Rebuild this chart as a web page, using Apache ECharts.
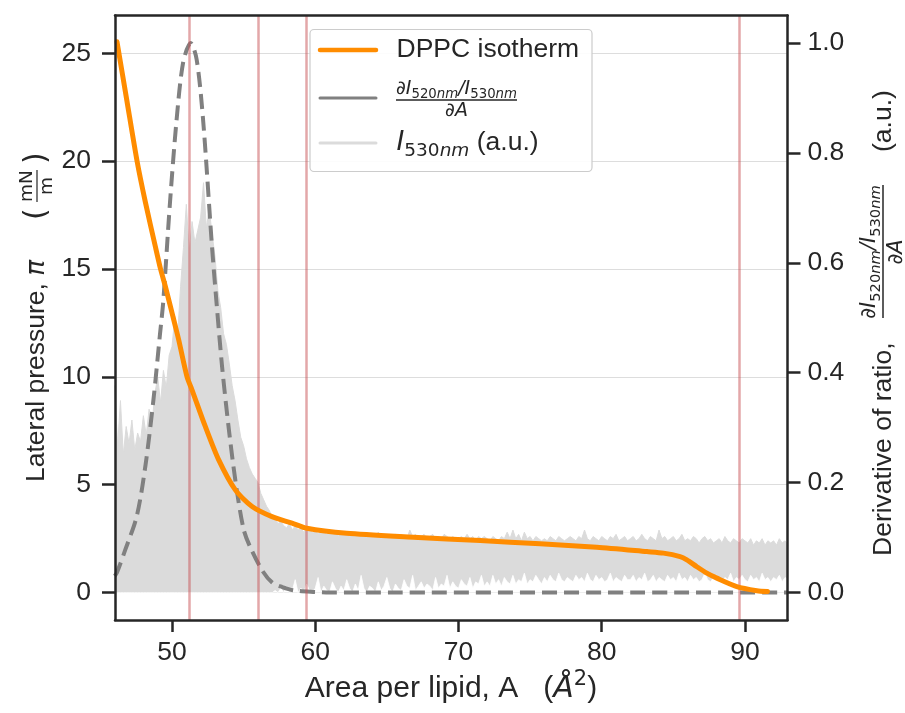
<!DOCTYPE html>
<html>
<head>
<meta charset="utf-8">
<script src="https://cdn.jsdelivr.net/npm/echarts@6/dist/echarts.min.js"></script>
<style>
  html, body { margin: 0; padding: 0; background: #ffffff; }
  #chart { width: 905px; height: 713px; }
</style>
</head>
<body>
<div id="chart"></div>
<script>
// DPPC isotherm: area per lipid (Å²) against lateral pressure (mN/m)
const isoArea = [46.16, 46.85, 47.56, 48.14, 48.84, 49.2, 49.54, 50.24, 50.47, 51.05, 51.4, 52.33,
  53.26, 54.42, 55.59, 56.98, 58.38, 59.41, 62.2, 66.86, 71.51, 75.7,
  79.66, 83.15, 84.31, 85.47, 85.94, 86.64, 87.34, 88.04, 89.43, 90.83, 91.57];
const isoPressure = [25.53, 22.8, 20.0, 18.1, 16.03, 15.0, 14.18, 12.33, 11.71, 10.0, 9.39, 7.69,
  6.15, 4.76, 3.99, 3.52, 3.22, 2.98, 2.75, 2.57, 2.41, 2.26,
  2.1, 1.9, 1.83, 1.67, 1.52, 1.2, 0.9, 0.67, 0.28, 0.09, 0.05];

// Normalised derivative of the I520/I530 ratio with respect to area
const derivArea = [46.0, 46.15, 46.74, 47.54, 48.14, 48.7, 49.16, 49.39, 49.86, 50.32,
  50.78, 51.3, 51.72, 52.17, 52.79, 53.1, 53.5, 54.0, 54.5, 55.0,
  55.42, 56.3, 57.0, 57.7, 58.5, 60.0, 61.0, 93.0];
const derivValue = [0.03, 0.036, 0.078, 0.139, 0.23, 0.35, 0.47, 0.53, 0.71, 0.86,
  0.965, 1.0, 0.97, 0.86, 0.63, 0.53, 0.41, 0.29, 0.19, 0.115,
  0.085, 0.04, 0.018, 0.01, 0.004, 0.001, 0, 0];

// I530 trace (a.u., drawn on the pressure scale), sampled every 0.2 Å² from 46.0 Å²
const i530Start = 46.0;
const i530Step = 0.2;
const i530Upper = [
  9.6, 6.8, 8.9, 6.4, 7.7, 6.9, 8.0, 6.6, 7.4, 7.0,
  8.2, 7.3, 8.5, 7.8, 9.2, 10.0, 8.8, 10.3, 9.5, 11.0,
  11.4, 12.8, 12.0, 14.2, 16.0, 18.0, 15.8, 17.2, 16.2, 16.8,
  17.4, 19.0, 16.9, 17.8, 16.6, 15.6, 14.0, 13.2, 12.0, 11.5,
  10.6, 9.6, 8.9, 8.0, 7.2, 6.8, 6.2, 5.8, 5.5, 5.3,
  5.1, 4.6, 4.3, 4.0, 3.8, 3.5, 3.4, 3.2, 3.3, 3.1,
  3.0, 3.2, 2.9, 3.1, 2.9, 3.0, 2.8, 3.0, 2.9, 2.8,
  2.9, 2.7, 2.9, 2.8, 2.7, 2.9, 2.7, 2.8, 2.6, 2.8,
  2.7, 2.8, 2.6, 2.7, 2.8, 2.6, 2.7, 2.6, 2.8, 2.6,
  2.7, 2.6, 2.8, 2.6, 2.7, 2.5, 2.7, 2.6, 2.7, 2.5,
  2.7, 2.6, 2.5, 2.9, 2.6, 2.7, 2.5, 2.6, 2.7, 2.5,
  2.6, 2.7, 2.5, 2.6, 2.5, 2.7, 2.6, 2.5, 2.6, 2.5,
  2.5, 2.6, 2.5, 2.7, 2.5, 2.6, 2.4, 2.6, 2.5, 2.6,
  2.5, 2.4, 2.6, 2.5, 2.4, 2.6, 2.5, 2.8, 2.5, 2.9,
  2.5, 2.7, 2.4, 2.8, 2.5, 2.6, 2.4, 2.6, 2.5, 2.4,
  2.5, 2.4, 2.6, 2.5, 2.4, 2.6, 2.5, 2.4, 2.5, 2.6,
  2.5, 2.4, 2.6, 2.5, 2.9, 2.5, 2.4, 2.6, 2.5, 2.4,
  2.6, 2.5, 2.4, 2.6, 2.5, 2.7, 2.4, 2.5, 2.6, 2.4,
  2.5, 2.6, 2.4, 2.5, 2.7, 2.5, 2.4, 2.6, 2.5, 2.4,
  2.9, 2.5, 2.6, 2.4, 2.5, 2.6, 2.4, 2.5, 2.7, 2.4,
  2.5, 2.4, 2.6, 2.5, 2.3, 2.5, 2.6, 2.4, 2.5, 2.3,
  2.4, 2.5, 2.3, 2.6, 2.4, 2.3, 2.5, 2.4, 2.3, 2.5,
  2.4, 2.3, 2.5, 2.2, 2.4, 2.3, 2.5, 2.2, 2.4, 2.3,
  2.4, 2.2, 2.5, 2.3, 2.4, 2.2
];
const i530Lower = [
  0, 0, 0, 0, 0, 0, 0, 0, 0, 0,
  0, 0, 0, 0, 0, 0, 0, 0, 0, 0,
  0, 0, 0, 0, 0, 0, 0, 0, 0, 0,
  0, 0, 0, 0, 0, 0, 0, 0, 0, 0,
  0, 0, 0, 0, 0, 0, 0, 0, 0, 0,
  0, 0, 0, 0, 0, 0, 0.1, 0, 0.2, 0,
  0.3, 0, 0.1, 0.6, 0, 0.2, 0, 0.4, 0.1, 0,
  0.2, 0.7, 0, 0.3, 0.1, 0, 0.5, 0.2, 0, 0.3,
  0.1, 0.6, 0.2, 0, 0.4, 0.1, 0.8, 0.2, 0, 0.3,
  0.2, 0, 0.5, 0.1, 0.3, 0.7, 0.2, 0, 0.4, 0.2,
  0.1, 0.6, 0.3, 0.2, 0.8, 0.1, 0.3, 0.5, 0.2, 0.4,
  0.3, 0.1, 0.7, 0.2, 0.4, 0.3, 0.8, 0.2, 0.5, 0.3,
  0.2, 0.6, 0.4, 0.3, 0.7, 0.2, 0.5, 0.4, 0.8, 0.3,
  0.5, 0.3, 0.8, 0.4, 0.6, 0.3, 0.7, 0.5, 0.4, 0.8,
  0.4, 0.6, 0.5, 0.9, 0.4, 0.6, 0.5, 0.8, 0.6, 0.4,
  0.7, 0.5, 0.8, 0.6, 0.5, 0.9, 0.6, 0.5, 0.7, 0.6,
  0.5, 0.8, 0.6, 0.7, 0.5, 0.9, 0.6, 0.5, 0.8, 0.6,
  0.7, 0.5, 0.6, 0.9, 0.5, 0.7, 0.6, 0.5, 0.8, 0.6,
  0.6, 0.8, 0.5, 0.7, 0.6, 0.9, 0.5, 0.6, 0.8, 0.5,
  0.7, 0.6, 0.5, 0.8, 0.6, 0.7, 0.5, 0.9, 0.6, 0.7,
  0.5, 0.8, 0.6, 0.7, 0.5, 0.6, 0.9, 0.6, 0.5, 0.7,
  0.8, 0.6, 0.5, 0.7, 0.6, 0.9, 0.5, 0.7, 0.6, 0.8,
  0.6, 0.5, 0.8, 0.6, 0.7, 0.5, 0.9, 0.6, 0.7, 0.5,
  0.7, 0.6, 0.8, 0.5, 0.7, 0.6
];

// Vertical markers at the transition areas
const markerAreas = [51.2, 56.0, 59.4, 89.6];

// Axis ticks
const areaTicks = [50, 60, 70, 80, 90];
const pressureTicks = [0, 5, 10, 15, 20, 25];
const ratioTicks = [0, 0.2, 0.4, 0.6, 0.8, 1.0];

const ink = '#262626';
const textFont = 'Liberation Sans';
const mathFont = 'DejaVu Sans';
const orange = '#ff8c00';
const dashGray = '#808080';
const traceGray = '#dbdbdb';
const markerRed = 'rgba(200, 80, 84, 0.5)';

const zip = (xs, ys) => xs.map((x, i) => [x, ys[i]]);
const sampled = vals => vals.map((v, i) => [+(i530Start + i * i530Step).toFixed(2), v]);

const tickLabel = { fontSize: 26.5, fontFamily: textFont, color: ink };

// Rich styles shared by the math-style labels
function mathRich(main, sub) {
  return {
    t: { fontFamily: textFont, fontSize: main, lineHeight: main * 1.3, color: ink, verticalAlign: 'middle' },
    i: { fontFamily: mathFont, fontStyle: 'italic', fontSize: main, lineHeight: main * 1.3, color: ink, verticalAlign: 'middle' },
    r: { fontFamily: mathFont, fontSize: main, lineHeight: main * 1.3, color: ink, verticalAlign: 'middle' },
    s: { fontFamily: mathFont, fontSize: sub, lineHeight: sub, color: ink, verticalAlign: 'bottom' },
    si: { fontFamily: mathFont, fontStyle: 'italic', fontSize: sub, lineHeight: sub, color: ink, verticalAlign: 'bottom' },
    up: { fontFamily: mathFont, fontSize: sub, lineHeight: sub, color: ink, verticalAlign: 'top' }
  };
}

const Z = 100;
function txt(x, y, text, rich, align) {
  return {
    type: 'text', x: x, y: y, z: Z, silent: true,
    style: { text: text, rich: rich, fill: ink, textAlign: align || 'left', textVerticalAlign: 'middle' }
  };
}
function seg(x1, y1, x2, y2, color, width, cap) {
  return {
    type: 'line', z: Z, silent: true,
    shape: { x1: x1, y1: y1, x2: x2, y2: y2 },
    style: { stroke: color, lineWidth: width, lineCap: cap || 'butt' }
  };
}

const chart = echarts.init(document.getElementById('chart'), null, { renderer: 'canvas' });

const option = {
  animation: false,
  backgroundColor: '#ffffff',
  grid: { left: 115, right: 117.5, top: 15.5, bottom: 93, containLabel: false },
  xAxis: [
    {
      type: 'value', position: 'bottom', min: 46.02, max: 92.97, z: 10,
      axisLine: { show: true, onZero: false, lineStyle: { color: ink, width: 2.5 } },
      axisTick: { show: true, length: 12, customValues: areaTicks, lineStyle: { color: ink, width: 2.5 } },
      axisLabel: Object.assign({ margin: 19, customValues: areaTicks }, tickLabel),
      splitLine: { show: false }
    },
    {
      type: 'value', position: 'top', min: 46.02, max: 92.97, z: 10,
      axisLine: { show: true, onZero: false, lineStyle: { color: ink, width: 2.5 } },
      axisTick: { show: false }, axisLabel: { show: false }, splitLine: { show: false }
    }
  ],
  yAxis: [
    {
      type: 'value', position: 'left', min: -1.27, max: 26.75, z: 10,
      axisLine: { show: true, onZero: false, lineStyle: { color: ink, width: 2.5 } },
      axisTick: { show: true, length: 13, customValues: pressureTicks, lineStyle: { color: ink, width: 2.5 } },
      axisLabel: Object.assign({ margin: 24, customValues: pressureTicks }, tickLabel),
      splitLine: { show: false }
    },
    {
      type: 'value', position: 'right', min: -0.05, max: 1.05, z: 10,
      axisLine: { show: true, onZero: false, lineStyle: { color: ink, width: 2.5 } },
      axisTick: { show: true, length: 13, customValues: ratioTicks, lineStyle: { color: ink, width: 2.5 } },
      axisLabel: Object.assign({ margin: 20, customValues: ratioTicks, formatter: v => v.toFixed(1) }, tickLabel),
      splitLine: { show: false }
    }
  ],
  series: [
    {
      // upper edge of the I530 trace, filled down to zero; also carries the pressure grid
      name: 'I530 upper', type: 'line', xAxisIndex: 0, yAxisIndex: 0, z: 2,
      data: sampled(i530Upper), showSymbol: false, symbol: 'none', silent: true,
      lineStyle: { color: traceGray, width: 1 },
      areaStyle: { color: traceGray, opacity: 1 },
      markLine: {
        silent: true, symbol: ['none', 'none'], label: { show: false }, z: 1,
        lineStyle: { color: '#dddddd', width: 1.2, type: 'solid' },
        data: pressureTicks.map(v => ({ yAxis: v }))
      }
    },
    {
      // lower edge of the I530 trace: blank out the band below it
      name: 'I530 lower', type: 'line', xAxisIndex: 0, yAxisIndex: 0, z: 2,
      data: sampled(i530Lower), showSymbol: false, symbol: 'none', silent: true,
      lineStyle: { color: '#ffffff', width: 0.8 },
      areaStyle: { color: '#ffffff', opacity: 1 }
    },
    {
      name: 'markers', type: 'line', xAxisIndex: 0, yAxisIndex: 0, z: 3, data: [], silent: true,
      markLine: {
        silent: true, symbol: ['none', 'none'], label: { show: false },
        lineStyle: { color: markerRed, width: 2.5, type: 'solid' },
        data: markerAreas.map(v => ({ xAxis: v }))
      }
    },
    {
      name: 'derivative', type: 'line', xAxisIndex: 0, yAxisIndex: 1, z: 4,
      data: zip(derivArea, derivValue), showSymbol: false, symbol: 'none', smooth: 0.3,
      lineStyle: { color: dashGray, width: 4, type: [15, 7] }
    },
    {
      name: 'DPPC isotherm', type: 'line', xAxisIndex: 0, yAxisIndex: 0, z: 5,
      data: zip(isoArea, isoPressure), showSymbol: false, symbol: 'none', smooth: 0.25,
      lineStyle: { color: orange, width: 5, cap: 'round', join: 'round' }
    }
  ],
  graphic: [
    // x axis title
    txt(451, 689,
      '{t|Area per lipid, A   (}{i|Å}{up|2}{t|)}',
      mathRich(30, 21), 'center'),
    // left axis title, rotated
    {
      type: 'group', x: 37, y: 482, rotation: Math.PI / 2, silent: true,
      children: [
        txt(0, 0, '{t|Lateral pressure, }{i|π}', mathRich(26.5, 18.5), 'left'),
        txt(262, 0, '{p|(}', { p: { fontFamily: mathFont, fontSize: 30, color: ink } }, 'left'),
        txt(296, -10, '{a|mN}', { a: { fontFamily: mathFont, fontSize: 18.5, color: ink } }, 'center'),
        seg(280, 0, 312, 0, ink, 1.2),
        txt(296, 10, '{a|m}', { a: { fontFamily: mathFont, fontSize: 18.5, color: ink } }, 'center'),
        txt(318, 0, '{p|)}', { p: { fontFamily: mathFont, fontSize: 30, color: ink } }, 'left')
      ]
    },
    // right axis title, rotated
    {
      type: 'group', x: 884, y: 556, rotation: Math.PI / 2, silent: true,
      children: [
        txt(0, 0, '{t|Derivative of ratio,}', mathRich(26.5, 18.5), 'left'),
        txt(304, -14, '{i|∂I}{s|520}{si|nm}{i|/I}{s|530}{si|nm}', mathRich(21, 14.7), 'center'),
        seg(238, -1, 371, -1, ink, 1.5),
        txt(304, 13, '{i|∂A}', mathRich(21, 14.7), 'center'),
        txt(404, 0, '{t|(a.u.)}', mathRich(26.5, 18.5), 'left')
      ]
    },
    // legend
    {
      type: 'rect', z: Z - 1, silent: true,
      shape: { x: 310, y: 29.5, width: 282, height: 142, r: 4 },
      style: { fill: 'rgba(255,255,255,0.9)', stroke: '#cccccc', lineWidth: 1.2 }
    },
    seg(320, 50, 376, 50, orange, 4.5, 'round'),
    txt(396.5, 50, '{t|DPPC isotherm}', mathRich(26.5, 18.5), 'left'),
    seg(320, 98, 376, 98, dashGray, 3, 'round'),
    txt(456.5, 89, '{i|∂I}{s|520}{si|nm}{i|/I}{s|530}{si|nm}', mathRich(19, 13.3), 'center'),
    seg(396, 100, 517, 100, ink, 1.4),
    txt(456.5, 111, '{i|∂A}', mathRich(19, 13.3), 'center'),
    seg(320, 143, 376, 143, traceGray, 3, 'round'),
    txt(396.5, 143, '{i|I}{s|530}{si|nm}{t| (a.u.)}', mathRich(26.5, 18.5), 'left')
  ]
};

chart.setOption(option);
</script>
</body>
</html>
